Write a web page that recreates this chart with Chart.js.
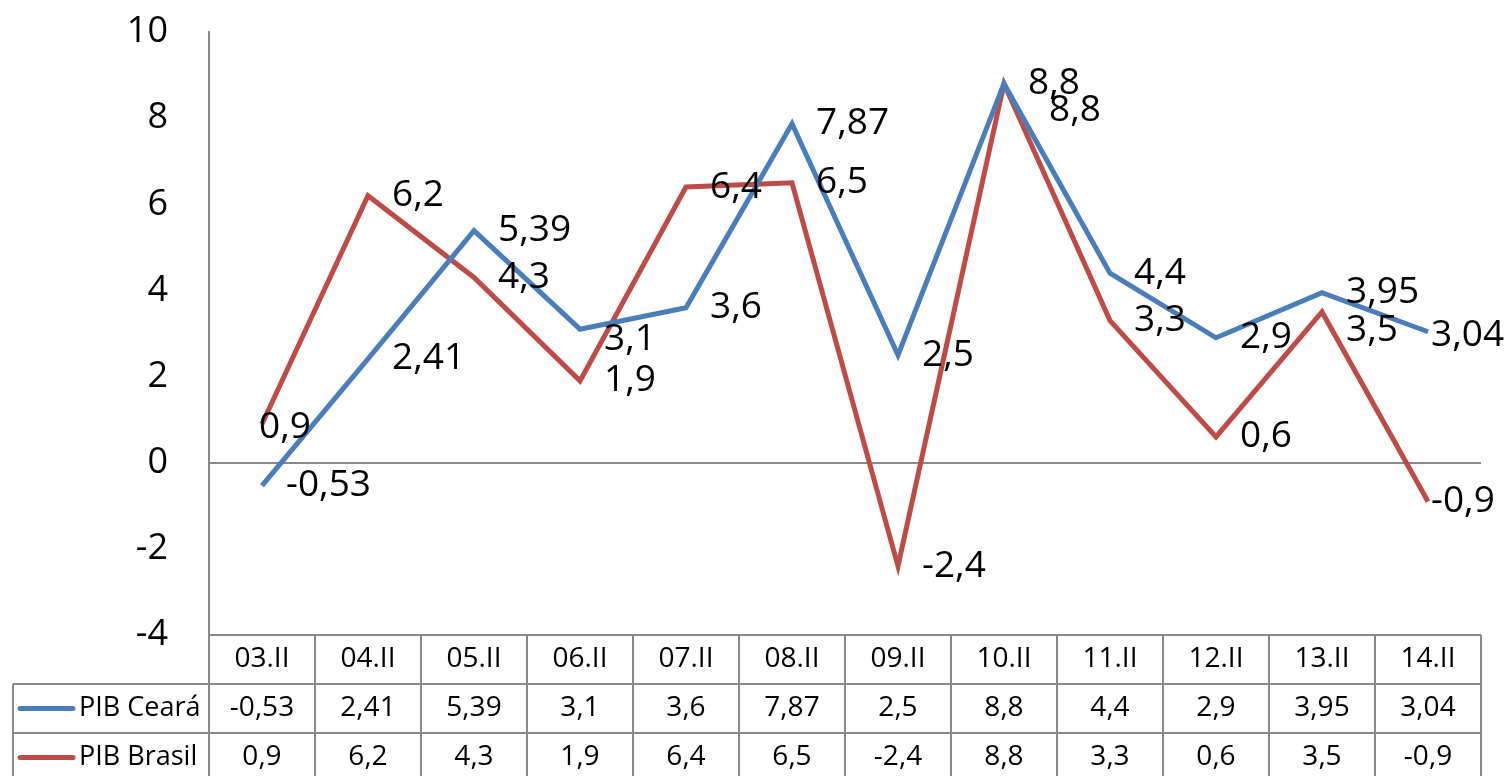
<!DOCTYPE html>
<html>
<head>
<meta charset="utf-8">
<script src="https://cdn.jsdelivr.net/npm/chart.js@4.4.1/dist/chart.umd.min.js"></script>
<style>
  html, body { margin: 0; padding: 0; background: #fff; }
  #wrap { width: 1505px; height: 776px; }
</style>
</head>
<body>
<div id="wrap"><canvas id="chart"></canvas></div>
<script>
const categories = ['03.II','04.II','05.II','06.II','07.II','08.II','09.II','10.II','11.II','12.II','13.II','14.II'];
const pibCeara   = [-0.53, 2.41, 5.39, 3.1, 3.6, 7.87, 2.5, 8.8, 4.4, 2.9, 3.95, 3.04];
const pibBrasil  = [0.9, 6.2, 4.3, 1.9, 6.4, 6.5, -2.4, 8.8, 3.3, 0.6, 3.5, -0.9];
const seriesNames = ['PIB Ceará', 'PIB Brasil'];

const FONT = "'Open Sans', sans-serif";
const GRAY = '#898989';
const COLORS = ['#4A7EBB', '#BE4B48'];

const fmt = v => String(v).replace('.', ',');

// small manual nudges for labels that Excel moved to avoid overlaps
const nudge = {
  '0-3': [0, 10], '0-11': [-21, 4],
  '1-0': [-27, 4], '1-7': [21, 27], '1-10': [0, 18], '1-11': [-21, 0]
};

const labelsPlugin = {
  id: 'pointLabels',
  afterDatasetsDraw(chart) {
    const ctx = chart.ctx;
    ctx.save();
    ctx.font = '37px ' + FONT;
    ctx.fillStyle = '#000';
    ctx.textAlign = 'left';
    ctx.textBaseline = 'middle';
    chart.data.datasets.forEach((ds, di) => {
      chart.getDatasetMeta(di).data.forEach((pt, i) => {
        const n = nudge[di + '-' + i] || [0, 0];
        ctx.fillText(fmt(ds.data[i]), pt.x + 24 + n[0], pt.y + n[1]);
      });
    });
    ctx.restore();
  }
};

const tablePlugin = {
  id: 'dataTable',
  afterDraw(chart) {
    const ctx = chart.ctx;
    const area = chart.chartArea;
    const xs = chart.scales.x;
    const colW = (area.right - area.left) / categories.length;
    const rowH = 49;
    const top = area.bottom;
    const leftEdge = 13;
    const rows = [pibCeara, pibBrasil];

    ctx.save();
    ctx.strokeStyle = GRAY;
    ctx.lineWidth = 2;
    ctx.beginPath();
    // horizontal lines
    ctx.moveTo(area.left, top); ctx.lineTo(area.right, top);
    for (let r = 1; r <= 3; r++) {
      ctx.moveTo(leftEdge, top + rowH * r); ctx.lineTo(area.right, top + rowH * r);
    }
    // vertical lines
    for (let c = 0; c <= categories.length; c++) {
      const x = area.left + colW * c;
      ctx.moveTo(x, top); ctx.lineTo(x, top + rowH * 3);
    }
    ctx.moveTo(leftEdge, top + rowH); ctx.lineTo(leftEdge, top + rowH * 3);
    ctx.stroke();

    ctx.fillStyle = '#000';
    ctx.font = '28px ' + FONT;
    ctx.textBaseline = 'middle';
    ctx.textAlign = 'center';
    categories.forEach((c, i) => {
      const x = xs.getPixelForValue(i);
      ctx.fillText(c, x, top + rowH / 2);
      rows.forEach((row, r) => {
        ctx.fillText(fmt(row[i]), x, top + rowH * (r + 1.5));
      });
    });

    // legend keys
    ctx.font = '27px ' + FONT;
    rows.forEach((row, r) => {
      const y = top + rowH * (r + 1.5);
      ctx.strokeStyle = COLORS[r];
      ctx.lineWidth = 5;
      ctx.lineCap = 'round';
      ctx.beginPath();
      ctx.moveTo(20, y); ctx.lineTo(73, y);
      ctx.stroke();
      ctx.textAlign = 'left';
      ctx.fillText(seriesNames[r], 79, y);
    });
    ctx.restore();
  }
};

new Chart(document.getElementById('chart'), {
  type: 'line',
  data: {
    labels: categories,
    datasets: [
      { label: seriesNames[0], data: pibCeara, borderColor: COLORS[0], borderWidth: 5, pointRadius: 0, tension: 0 },
      { label: seriesNames[1], data: pibBrasil, borderColor: COLORS[1], borderWidth: 5, pointRadius: 0, tension: 0 }
    ]
  },
  options: {
    responsive: true,
    maintainAspectRatio: false,
    animation: false,
    devicePixelRatio: 1,
    layout: { padding: { left: 0, top: 32, right: 24, bottom: 141 } },
    plugins: { legend: { display: false }, tooltip: { enabled: false } },
    scales: {
      x: { display: false, offset: true },
      y: {
        min: -4, max: 10,
        afterFit: s => { s.width = 209; },
        ticks: { stepSize: 2, padding: 2, color: '#000', font: { family: FONT, size: 36 } },
        grid: {
          drawTicks: true,
          tickLength: 39,
          tickColor: 'transparent',
          lineWidth: 2,
          color: c => (c.tick && c.tick.value === 0) ? GRAY : 'transparent'
        },
        border: { display: true, color: GRAY, width: 2 }
      }
    }
  },
  plugins: [labelsPlugin, tablePlugin]
});
</script>
</body>
</html>
